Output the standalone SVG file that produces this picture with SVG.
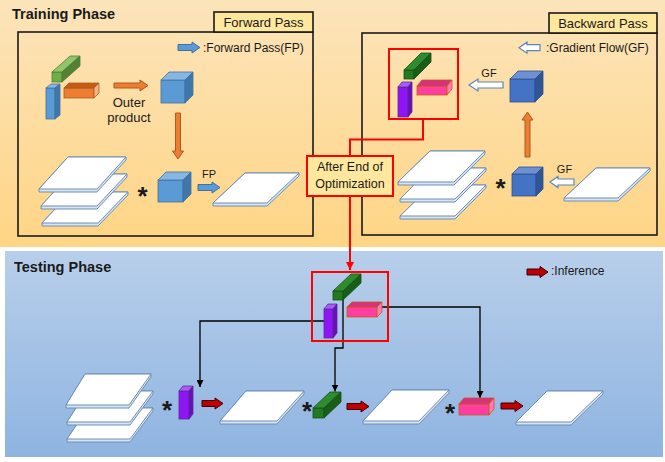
<svg xmlns="http://www.w3.org/2000/svg" width="665" height="462" viewBox="0 0 665 462">
<defs>
<linearGradient id="gOr" x1="0" y1="0" x2="0" y2="1"><stop offset="0" stop-color="#FCE4BA"/><stop offset="1" stop-color="#FFD585"/></linearGradient>
<linearGradient id="gBl" x1="0" y1="0" x2="0" y2="1"><stop offset="0" stop-color="#B8CFEA"/><stop offset="1" stop-color="#8FB4E1"/></linearGradient>
<marker id="mk" viewBox="0 0 10 10" refX="10" refY="5" markerWidth="7" markerHeight="7" markerUnits="userSpaceOnUse" orient="auto"><path d="M0,0 L10,5 L0,10 z" fill="#000"/></marker>
<marker id="mr" viewBox="0 0 10 10" refX="10" refY="5" markerWidth="8" markerHeight="8" markerUnits="userSpaceOnUse" orient="auto"><path d="M0,0 L10,5 L0,10 z" fill="#FF0000"/></marker>
<style>
text{font-family:"Liberation Sans",Arial,sans-serif;fill:#1a1a1a}
.title{font-size:14.5px;font-weight:bold}
.tab{font-size:13px;text-anchor:middle}
.leg{font-size:12px}
.lbl{font-size:11px}
.ast{font-size:26px;font-weight:bold;text-anchor:middle}
.box{fill:none;stroke:#1a1a1a;stroke-width:1.6}
.tabr{fill:#FFE89E;stroke:#1a1a1a;stroke-width:1.6}
.redbox{fill:none;stroke:#FF0000;stroke-width:2}
.pe{fill:#D9E4F1;stroke:#6D8EB8;stroke-width:1}
.pt{fill:#FFFFFF;stroke:#6D8EB8;stroke-width:1}
.bf{fill:#5B9BD5}.bt{fill:#88B6E2}.bs{fill:#3F77AD}
.blu *{stroke:#41719C;stroke-width:.8}
.df{fill:#4472C4}.dt{fill:#6E91D3}.ds{fill:#2F5597}
.dbl *{stroke:#2F528F;stroke-width:.8}
.gf{fill:#70AD47}.gt{fill:#90C66A}.gs{fill:#548235}
.grn *{stroke:#507E32;stroke-width:.8}
.of{fill:#ED7D31}.ot{fill:#C55A11}.os{fill:#F4B183}
.org *{stroke:#AE5A21;stroke-width:.8}
.kf{fill:#217A21}.kt{fill:#2E8B2E}.ks{fill:#185E18}
.dgr *{stroke:#165016;stroke-width:.8}
.uf{fill:#8F15F5}.ut{fill:#AA5CF7}.us{fill:#6A0DBA}
.pur *{stroke:#5A2B9A;stroke-width:.8}
.mf{fill:#FF3EA0}.mt{fill:#D6307F}.ms{fill:#FF7AB8}
.pnk *{stroke:#C55A11;stroke-width:.8}
.arB{fill:#5B9BD5;stroke:#41719C;stroke-width:1}
.arO{fill:#ED7D31;stroke:#AE5A21;stroke-width:1}
.arW{fill:#FFFFFF;stroke:#5B86B8;stroke-width:1.2}
.arR{fill:#C00000;stroke:#3B0000;stroke-width:1}
.con{fill:none;stroke:#000;stroke-width:1.3}
.rcon{fill:none;stroke:#FF0000;stroke-width:2}
</style>
</defs>

<!-- backgrounds -->
<rect x="0" y="0" width="665" height="247" fill="url(#gOr)"/>
<rect x="0" y="247" width="665" height="215" fill="#FFFFFF"/>
<rect x="5" y="251" width="658" height="206" fill="url(#gBl)"/>

<text class="title" x="12" y="18.5">Training Phase</text>
<text class="title" x="14" y="272">Testing Phase</text>

<!-- Forward pass frame -->
<g id="forward-pass">
<rect class="box" x="18" y="32" width="295" height="204"/>
<rect class="tabr" x="214" y="12" width="99" height="20"/>
<text class="tab" x="263.5" y="27">Forward Pass</text>
</g>
<g id="legend-fp">
<polygon class="arB" points="178,44.5 192,44.5 192,42 200,47.5 192,53 192,50.5 178,50.5"/>
<text class="leg" x="203" y="52">:Forward Pass(FP)</text>
</g>

<!-- Backward pass frame -->
<g id="backward-pass">
<rect class="box" x="362" y="33" width="295" height="202"/>
<rect class="tabr" x="549" y="13" width="108" height="20"/>
<text class="tab" x="603" y="28">Backward Pass</text>
</g>
<g id="legend-gf">
<polygon class="arW" points="519,47.7 527,42.2 527,44.7 540,44.7 540,50.7 527,50.7 527,53.2"/>
<text class="leg" x="546" y="52">:Gradient Flow(GF)</text>
</g>

<g id="legend-inf">
<polygon class="arR" points="527,269 540,269 540,266.5 548,272 540,277.5 540,275 527,275"/>
<text class="leg" x="551" y="274.5">:Inference</text>
</g>

<!-- Forward: factor bars -->
<g id="f-green" class="grn">
<rect class="gf" x="52" y="72" width="10" height="10"/>
<polygon class="gt" points="52,72 62,72 80,56 70,56"/>
<polygon class="gs" points="62,72 80,56 80,66 62,82"/>
</g>
<g id="f-blue" class="blu">
<rect class="bf" x="46" y="88" width="9" height="31"/>
<polygon class="bt" points="46,88 55,88 60,84 51,84"/>
<polygon class="bs" points="55,88 60,84 60,115 55,119"/>
</g>
<g id="f-orange" class="org">
<rect class="of" x="64" y="88" width="30" height="10"/>
<polygon class="ot" points="64,88 94,88 99,83 69,83"/>
<polygon class="os" points="94,88 99,83 99,93 94,98"/>
</g>
<g id="outer-product">
<polygon class="arO" points="114,83 140,83 140,80 148,85.5 140,91 140,88 114,88"/>
<text class="tab" x="129" y="106.5">Outer</text>
<text class="tab" x="129" y="122">product</text>
</g>
<g id="f-cube1" class="blu">
<rect class="bf" x="161" y="80" width="24" height="23"/>
<polygon class="bt" points="161,80 185,80 193,72 169,72"/>
<polygon class="bs" points="185,80 193,72 193,95 185,103"/>
</g>
<polygon id="f-down" class="arO" points="175.5,113 180.5,113 180.5,151 183.5,151 178,159 172.5,151 175.5,151"/>

<g id="f-stack">
<polygon class="pe" points="71,192 128,192 128,195 98,226 42,226 42,223"/>
<polygon class="pt" points="71,192 128,192 98,223 42,223"/>
<polygon class="pe" points="70,174 127,174 127,177 97,209 41,209 41,206"/>
<polygon class="pt" points="70,174 127,174 97,206 41,206"/>
<polygon class="pe" points="68,157 126,157 126,160 97,192 39,192 39,189"/>
<polygon class="pt" points="68,157 126,157 97,189 39,189"/>
</g>
<text class="ast" x="142.5" y="204.5">*</text>
<g id="f-cube2" class="blu">
<rect class="bf" x="158" y="180" width="25" height="22"/>
<polygon class="bt" points="158,180 183,180 191,172 166,172"/>
<polygon class="bs" points="183,180 191,172 191,194 183,202"/>
</g>
<g id="fp-arrow">
<polygon class="arB" points="198,184.5 212,184.5 212,182 220,187.5 212,193 212,190.5 198,190.5"/>
<text class="lbl" x="209" y="178.3" text-anchor="middle">FP</text>
</g>
<g id="f-out">
<polygon class="pe" points="245,173 299,173 299,176 267,206 213,206 213,203"/>
<polygon class="pt" points="245,173 299,173 267,203 213,203"/>
</g>

<!-- Backward -->
<rect id="b-redbox" class="redbox" x="389" y="49" width="69" height="70"/>
<g id="b-green" class="dgr">
<rect class="kf" x="404" y="70" width="10" height="9"/>
<polygon class="kt" points="404,70 414,70 431,53 421,53"/>
<polygon class="ks" points="414,70 431,53 431,62 414,79"/>
</g>
<g id="b-purple" class="pur">
<rect class="uf" x="398" y="87" width="10" height="30"/>
<polygon class="ut" points="398,87 408,87 412,82 402,82"/>
<polygon class="us" points="408,87 412,82 412,112 408,117"/>
</g>
<g id="b-pink" class="pnk">
<rect class="mf" x="417" y="86" width="30" height="9"/>
<polygon class="mt" points="417,86 447,86 452,80 422,80"/>
<polygon class="ms" points="447,86 452,80 452,89 447,95"/>
</g>
<g id="gf-arrow1">
<polygon class="arW" points="469,85 478,79 478,82 503,82 503,88 478,88 478,91"/>
<text class="lbl" x="489" y="77.3" text-anchor="middle">GF</text>
</g>
<g id="b-cube1" class="dbl">
<rect class="df" x="510" y="79" width="25" height="23"/>
<polygon class="dt" points="510,79 535,79 543,71 518,71"/>
<polygon class="ds" points="535,79 543,71 543,94 535,102"/>
</g>
<polygon id="b-up" class="arO" points="527.5,112 533,120 530,120 530,157 525,157 525,120 522,120"/>
<g id="b-stack">
<polygon class="pe" points="432,185 486,185 486,188 455,219 400,219 400,216"/>
<polygon class="pt" points="432,185 486,185 455,216 400,216"/>
<polygon class="pe" points="431,168 486,168 486,171 455,202 400,202 400,199"/>
<polygon class="pt" points="431,168 486,168 455,199 400,199"/>
<polygon class="pe" points="430,151 485,151 485,154 454,185 398,185 398,182"/>
<polygon class="pt" points="430,151 485,151 454,182 398,182"/>
</g>
<text class="ast" x="500.5" y="197">*</text>
<g id="b-cube2" class="dbl">
<rect class="df" x="512" y="174" width="24" height="22"/>
<polygon class="dt" points="512,174 536,174 543,167 519,167"/>
<polygon class="ds" points="536,174 543,167 543,189 536,196"/>
</g>
<g id="gf-arrow2">
<polygon class="arW" points="550,182 558,176.5 558,179 574,179 574,185 558,185 558,187.5"/>
<text class="lbl" x="564.5" y="173.3" text-anchor="middle">GF</text>
</g>
<g id="b-out">
<polygon class="pe" points="596,168 650,168 650,171 618,201 564,201 564,198"/>
<polygon class="pt" points="596,168 650,168 618,198 564,198"/>
</g>

<!-- connectors -->
<g id="connectors">
<path class="rcon" d="M423,120 V139.5 H350 V156"/>
<path class="rcon" d="M350,196 V270" marker-end="url(#mr)"/>
<path class="con" d="M324,321 H200 V387" marker-end="url(#mk)"/>
<path class="con" d="M343,300 V348 H335 V391.5" marker-end="url(#mk)"/>
<path class="con" d="M382,307 H480 V398" marker-end="url(#mk)"/>
</g>

<g id="after-end">
<rect x="307" y="156" width="86" height="40" fill="#FFE89E" stroke="#FF0000" stroke-width="2"/>
<text class="tab" x="350" y="171" style="font-size:12.5px">After End of</text>
<text class="tab" x="350" y="188" style="font-size:12.5px">Optimization</text>
</g>

<!-- Testing -->
<rect id="t-redbox" class="redbox" x="312" y="272" width="76" height="69"/>
<g id="t-green" class="dgr">
<rect class="kf" x="333" y="291" width="10" height="9"/>
<polygon class="kt" points="333,291 343,291 361,274 351,274"/>
<polygon class="ks" points="343,291 361,274 361,283 343,300"/>
</g>
<g id="t-purple" class="pur">
<rect class="uf" x="324" y="309" width="9" height="29"/>
<polygon class="ut" points="324,309 333,309 337,304 328,304"/>
<polygon class="us" points="333,309 337,304 337,333 333,338"/>
</g>
<g id="t-pink" class="pnk">
<rect class="mf" x="347" y="307" width="30" height="10"/>
<polygon class="mt" points="347,307 377,307 382,302 352,302"/>
<polygon class="ms" points="377,307 382,302 382,312 377,317"/>
</g>

<g id="t-stack">
<polygon class="pe" points="88,408 153,408 153,411 130,442 67,442 67,439"/>
<polygon class="pt" points="88,408 153,408 130,439 67,439"/>
<polygon class="pe" points="87,391 153,391 153,394 130,425 67,425 67,422"/>
<polygon class="pt" points="87,391 153,391 130,422 67,422"/>
<polygon class="pe" points="85,374 151,374 151,377 129,408 66,408 66,405"/>
<polygon class="pt" points="85,374 151,374 129,405 66,405"/>
</g>
<text class="ast" x="167" y="418.5">*</text>
<g id="t-pbar" class="pur">
<rect class="uf" x="179" y="391" width="10" height="28"/>
<polygon class="ut" points="179,391 189,391 193,386 183,386"/>
<polygon class="us" points="189,391 193,386 193,414 189,419"/>
</g>
<polygon id="t-arr1" class="arR" points="202,400.5 215,400.5 215,398 223,403.5 215,409 215,406.5 202,406.5"/>
<g id="t-plane1">
<polygon class="pe" points="246,391 304,391 304,394 277,424 220,424 220,421"/>
<polygon class="pt" points="246,391 304,391 277,421 220,421"/>
</g>
<text class="ast" x="307" y="419.5">*</text>
<g id="t-gbar" class="dgr">
<rect class="kf" x="313" y="408" width="11" height="10"/>
<polygon class="kt" points="313,408 324,408 341,392 330,392"/>
<polygon class="ks" points="324,408 341,392 341,402 324,418"/>
</g>
<polygon id="t-arr2" class="arR" points="347,403.5 361,403.5 361,401 369,406.5 361,412 361,409.5 347,409.5"/>
<g id="t-plane2">
<polygon class="pe" points="392,390 449,390 449,393 419,424 363,424 363,421"/>
<polygon class="pt" points="392,390 449,390 419,421 363,421"/>
</g>
<text class="ast" x="450" y="421.5">*</text>
<g id="t-mbar" class="pnk">
<rect class="mf" x="459" y="404" width="30" height="11"/>
<polygon class="mt" points="459,404 489,404 494,398 464,398"/>
<polygon class="ms" points="489,404 494,398 494,409 489,415"/>
</g>
<polygon id="t-arr3" class="arR" points="501,403 515,403 515,400.5 523,406 515,411.5 515,409 501,409"/>
<g id="t-plane3">
<polygon class="pe" points="547,391 603,391 603,394 571,425 516,425 516,422"/>
<polygon class="pt" points="547,391 603,391 571,422 516,422"/>
</g>
</svg>
